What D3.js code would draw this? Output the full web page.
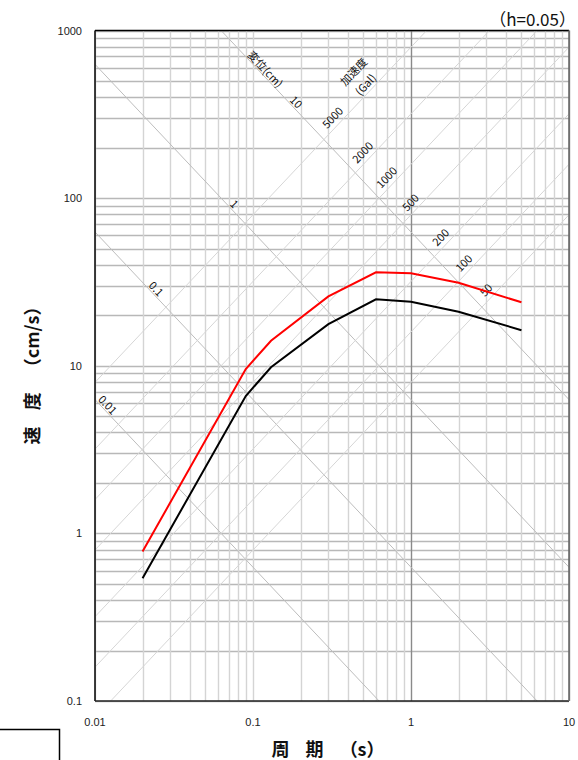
<!DOCTYPE html>
<html>
<head>
<meta charset="utf-8">
<script src="https://cdn.jsdelivr.net/npm/d3@7"></script>
<style>
  body { margin: 0; background: #fff; }
  svg { display: block; }
</style>
</head>
<body>
<div class="chart"></div>
<script>
// response spectrum data (period in s, velocity in cm/s)
var periods = [0.02, 0.09, 0.13, 0.3, 0.6, 1, 2, 5];
var velocityRed = [0.78, 9.55, 14.1, 25.9, 36.1, 35.6, 31.3, 23.9];
var velocityBlack = [0.54, 6.6, 9.8, 17.7, 24.9, 24.1, 21.0, 16.3];

// tripartite guide lines
var dispValues = [0.01, 0.1, 1, 10];          // cm
var accValues = [50, 100, 200, 500, 1000, 2000, 5000]; // Gal

// tick labels
var xTicks = [0.01, 0.1, 1, 10];
var xTickLabels = ['0.01', '0.1', '1', '10'];
var yTicks = [0.1, 1, 10, 100, 1000];
var yTickLabels = ['0.1', '1', '10', '100', '1000'];

// note: "top" is taken by window.top, so use plot* names
var w = 578,
  h = 760,
  plotLeft = 95,
  plotRight = 569,
  plotTop = 30.5,
  plotBottom = 701,
  TWO_PI = 2 * Math.PI;

var svg = d3.select('.chart')
  .append('svg')
  .attr('width', w)
  .attr('height', h);

var x = d3.scaleLog().domain([0.01, 10]).range([plotLeft, plotRight]);
var y = d3.scaleLog().domain([0.1, 1000]).range([plotBottom, plotTop]);

// pixel angle of a one-to-one diagonal
var ang = Math.atan((y(1) - y(10)) / (x(10) - x(1))) * 180 / Math.PI;

svg.append('clipPath')
  .attr('id', 'plotClip')
  .append('rect')
  .attr('x', plotLeft).attr('y', plotTop)
  .attr('width', plotRight - plotLeft).attr('height', plotBottom - plotTop);

// minor values for grid lines
var minor = function (lo, hi) {
  var out = [];
  for (var p = lo; p < hi * 0.999; p *= 10) {
    for (var k = 1; k <= 9; k++) out.push(p * k);
  }
  out.push(hi);
  return out;
};

var grid = svg.append('g').attr('class', 'grid');

// horizontal grid
grid.selectAll('line.h')
  .data(minor(0.1, 1000))
  .enter()
  .append('line')
  .attr('class', 'h')
  .attr('x1', plotLeft).attr('x2', plotRight)
  .attr('y1', function (d) { return Math.round(y(d)) + 0.5; })
  .attr('y2', function (d) { return Math.round(y(d)) + 0.5; })
  .attr('stroke', '#b8b8b8')
  .attr('stroke-width', 1.4);

// vertical grid
grid.selectAll('line.v')
  .data(minor(0.01, 10))
  .enter()
  .append('line')
  .attr('class', 'v')
  .attr('y1', plotTop).attr('y2', plotBottom)
  .attr('x1', function (d) { return Math.round(x(d)) + 0.5; })
  .attr('x2', function (d) { return Math.round(x(d)) + 0.5; })
  .attr('stroke', function (d) { return (Math.abs(d - 1) < 1e-9 || Math.abs(d - 10) < 1e-9) ? '#8a8a8a' : '#d4d4d4'; })
  .attr('stroke-width', 1.4);

var diag = d3.line()
  .x(function (d) { return x(d[0]); })
  .y(function (d) { return y(d[1]); });

var ends = [0.001, 100];

// displacement lines V = 2*pi*D / T
svg.append('g')
  .attr('clip-path', 'url(#plotClip)')
  .selectAll('path')
  .data(dispValues)
  .enter()
  .append('path')
  .attr('d', function (D) {
    return diag(ends.map(function (t) { return [t, TWO_PI * D / t]; }));
  })
  .attr('fill', 'none')
  .attr('stroke', '#bdbdbd')
  .attr('stroke-width', 1);

// acceleration lines V = A*T / (2*pi)
svg.append('g')
  .attr('clip-path', 'url(#plotClip)')
  .selectAll('path')
  .data(accValues)
  .enter()
  .append('path')
  .attr('d', function (A) {
    return diag(ends.map(function (t) { return [t, A * t / TWO_PI]; }));
  })
  .attr('fill', 'none')
  .attr('stroke', '#d6d6d6')
  .attr('stroke-width', 1);

// frame
var frame = svg.append('g');
frame.append('line').attr('x1', plotLeft).attr('x2', plotRight).attr('y1', plotTop).attr('y2', plotTop)
  .attr('stroke', '#000').attr('stroke-width', 1.5);
frame.append('line').attr('x1', plotLeft).attr('x2', plotLeft).attr('y1', plotTop).attr('y2', plotBottom)
  .attr('stroke', '#000').attr('stroke-width', 1.5);
frame.append('line').attr('x1', plotLeft).attr('x2', plotRight).attr('y1', plotBottom).attr('y2', plotBottom)
  .attr('stroke', '#222').attr('stroke-width', 1.5);
frame.append('line').attr('x1', plotRight).attr('x2', plotRight).attr('y1', plotTop).attr('y2', plotBottom)
  .attr('stroke', '#666').attr('stroke-width', 1.5);

// diagonal labels
var labelFont = '"Noto Sans CJK JP", "Noto Sans", sans-serif';

// label anchor periods along each line
var dispLabelT = [0.01134, 0.023, 0.0718, 0.177];
var accLabelT = [3.28, 2.37, 1.69, 1.09, 0.769, 0.542, 0.35];

var placeLabel = function (px, py, rot, offset, txt, size) {
  svg.append('text')
    .attr('transform', 'translate(' + px + ',' + py + ') rotate(' + rot + ')')
    .attr('x', 0)
    .attr('y', -offset)
    .attr('text-anchor', 'middle')
    .attr('dominant-baseline', 'central')
    .attr('font-family', labelFont)
    .attr('font-size', size || 11)
    .attr('fill', '#111')
    .text(txt);
};

dispValues.forEach(function (D, i) {
  var t = dispLabelT[i];
  placeLabel(x(t), y(TWO_PI * D / t), ang, 6.5, String(D));
});

accValues.forEach(function (A, i) {
  var t = accLabelT[i];
  placeLabel(x(t), y(A * t / TWO_PI), -ang, 9.7, String(A));
});

// header labels of the diagonals
placeLabel(x(0.1128), y(TWO_PI * 10 / 0.1128), ang, 6.5, '変位(cm)');
placeLabel(x(0.4295), y(573), -ang, 0, '加速度');
placeLabel(x(0.512), y(480), -ang, 0, '(Gal)');

// spectra
var spec = d3.line()
  .x(function (d) { return x(d[0]); })
  .y(function (d) { return y(d[1]); });

svg.append('path')
  .datum(periods.map(function (t, i) { return [t, velocityRed[i]]; }))
  .attr('d', spec)
  .attr('fill', 'none')
  .attr('stroke', '#ff0000')
  .attr('stroke-width', 2);

svg.append('path')
  .datum(periods.map(function (t, i) { return [t, velocityBlack[i]]; }))
  .attr('d', spec)
  .attr('fill', 'none')
  .attr('stroke', '#000')
  .attr('stroke-width', 2);

// tick labels
var tickFont = '"Liberation Sans", Arial, sans-serif';

svg.selectAll('text.xtick')
  .data(xTicks)
  .enter()
  .append('text')
  .attr('class', 'xtick')
  .attr('x', function (d) { return x(d); })
  .attr('y', 722)
  .attr('text-anchor', 'middle')
  .attr('dominant-baseline', 'central')
  .attr('font-family', tickFont)
  .attr('font-size', 11)
  .attr('fill', '#222')
  .text(function (d, i) { return xTickLabels[i]; });

svg.selectAll('text.ytick')
  .data(yTicks)
  .enter()
  .append('text')
  .attr('class', 'ytick')
  .attr('x', 82)
  .attr('y', function (d) { return y(d); })
  .attr('text-anchor', 'end')
  .attr('dominant-baseline', 'central')
  .attr('font-family', tickFont)
  .attr('font-size', 11)
  .attr('fill', '#222')
  .text(function (d, i) { return yTickLabels[i]; });

// titles
var cjk = '"Noto Sans CJK JP", sans-serif';

svg.append('text')
  .attr('x', 576)
  .attr('y', 26)
  .attr('text-anchor', 'end')
  .attr('font-family', cjk)
  .attr('font-size', 17)
  .attr('fill', '#111')
  .text('（h=0.05）');

// axis title: spaced kanji followed by the unit in brackets
var axisTitle = function (g, kanji, unit) {
  var t = g.append('text')
    .attr('text-anchor', 'middle')
    .attr('dominant-baseline', 'central')
    .attr('font-family', cjk)
    .attr('font-weight', 'bold')
    .attr('font-size', 18)
    .attr('fill', '#111');
  t.append('tspan').attr('letter-spacing', 6).text(kanji);
  t.append('tspan').attr('letter-spacing', 0).text(unit);
  return t;
};

axisTitle(svg.append('g').attr('transform', 'translate(31,371) rotate(-90)'), '速 度 ', '（cm/s）');
axisTitle(svg.append('g').attr('transform', 'translate(328,748)'), '周 期 ', '（s）');

// stray box at bottom left
svg.append('rect')
  .attr('x', -2)
  .attr('y', 729.5)
  .attr('width', 61.5)
  .attr('height', 40)
  .attr('fill', 'none')
  .attr('stroke', '#000')
  .attr('stroke-width', 1.5);
</script>
</body>
</html>
